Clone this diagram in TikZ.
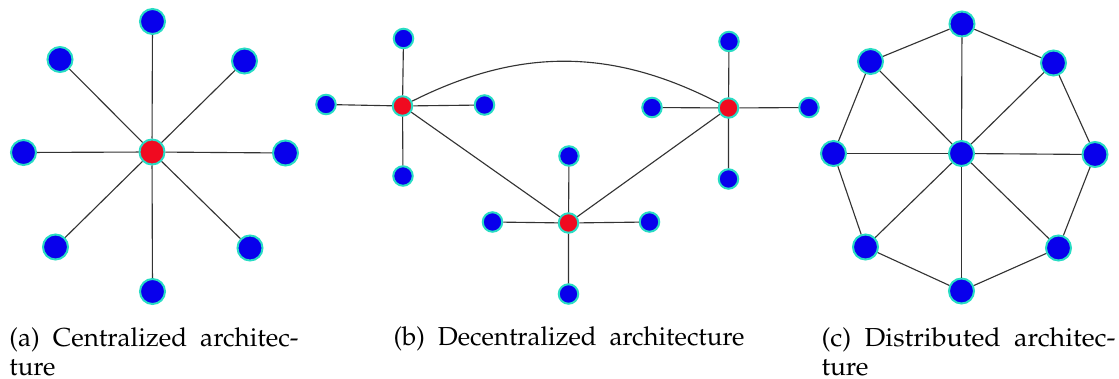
\documentclass[tikz,border=0pt]{standalone}
\usepackage[T1]{fontenc}
\usepackage{mathpazo}
\usepackage{graphicx}
\definecolor{nodeblue}{RGB}{8,0,236}
\definecolor{nodered}{RGB}{240,10,32}
\definecolor{nodering}{RGB}{40,220,196}
\newcommand{\capfont}{\fontsize{10.4}{11.6}\selectfont\spaceskip=0.5em\relax}
\newcommand{\capline}[2]{\resizebox{#1}{\height}{#2}}
\tikzset{
  peer/.style={circle,fill=nodeblue,draw=nodering,line width=0.8pt,inner sep=0pt,minimum size=10pt},
  small/.style={minimum size=7.8pt},
  hub/.style={fill=nodered},
  link/.style={draw=black!80,line width=0.45pt},
  caption/.style={anchor=base west,inner sep=0pt,align=left,font=\capfont}
}
\begin{document}
\begin{tikzpicture}[x=0.4pt,y=-0.4pt]
  \useasboundingbox (0,0) rectangle (1119,379);
  % (a) centralized
  \node[peer,hub] (ac) at (152,152) {};
  \foreach \n/\p in {1/{152.5,21.5},2/{244.5,61},3/{285.5,153},4/{250,248},
                     5/{152.5,291.5},6/{55.5,247},7/{23.5,152.5},8/{60,59.5}}
  {
    \node[peer] (a\n) at (\p) {};
    \draw[link] (ac) -- (a\n);
  }
  % (b) decentralized
  \node[peer,small,hub] (bl) at (402.5,106) {};
  \node[peer,small,hub] (bm) at (568.5,223) {};
  \node[peer,small,hub] (br) at (728.5,108) {};
  \foreach \h/\pn/\pe/\ps/\pw in {bl/{403.5,38.5}/{484.5,105}/{403,176}/{326,104.5},
                                  bm/{569,156}/{649.5,222}/{568.5,294}/{492.5,222},
                                  br/{729,41.5}/{809,107.5}/{728.5,179}/{652,107.5}}
  {
    \node[peer,small] (\h n) at (\pn) {};
    \node[peer,small] (\h e) at (\pe) {};
    \node[peer,small] (\h s) at (\ps) {};
    \node[peer,small] (\h w) at (\pw) {};
    \draw[link] (\h) -- (\h n) (\h) -- (\h e) (\h) -- (\h s) (\h) -- (\h w);
  }
  \draw[link] (bl) -- (bm) -- (br);
  \draw[link] (bl) to[bend left=27] (br);
  % (c) distributed
  \node[peer] (cc) at (961.5,153.5) {};
  \foreach \n/\p in {1/{962,24},2/{1053.5,63},3/{1095,154.5},4/{1058.5,248},
                     5/{961.5,291},6/{865.5,247},7/{833.5,153.5},8/{870.5,61.5}}
  {
    \node[peer] (c\n) at (\p) {};
    \draw[link] (cc) -- (c\n);
  }
  \foreach \n/\m in {1/2,2/3,3/4,4/5,5/6,6/7,7/8,8/1}
    \draw[link] (c\n) -- (c\m);
  % captions
  \node[caption] (capa) at (9,375) {\capline{115.6pt}{(a) Centralized architec-}\\\capline{18.4pt}{ture}};
  \node[caption] (capb) at (393,345) {\capline{140.4pt}{(b) Decentralized architecture}};
  \node[caption] (capc) at (821,375) {\capline{117.6pt}{(c) Distributed architec-}\\\capline{18.8pt}{ture}};
\end{tikzpicture}
\end{document}
